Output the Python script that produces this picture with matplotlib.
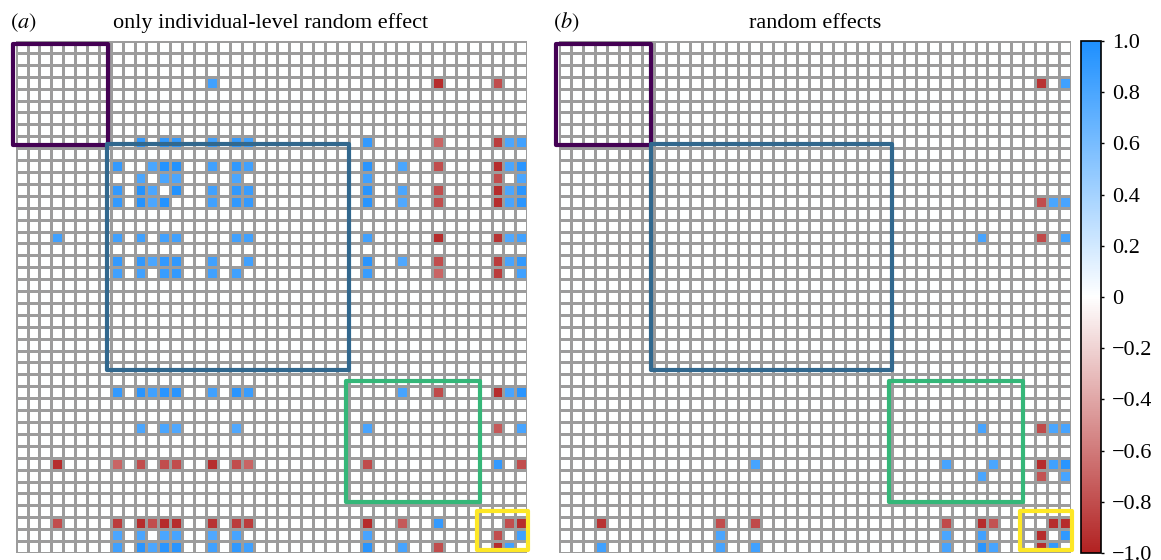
import numpy as np
import matplotlib
matplotlib.use("Agg")
import matplotlib.pyplot as plt
from matplotlib.colors import LinearSegmentedColormap
from matplotlib.patches import Rectangle

plt.rcParams['font.family'] = ['Liberation Serif', 'DejaVu Serif']
plt.rcParams['mathtext.fontset'] = 'stix'

n = 43

# panel (a): upper-triangle correlations (row, col, value)
a_rows = [3, 3, 3,
          8, 8, 8, 8, 8, 8, 8, 8, 8, 8, 8,
          10, 10, 10, 10, 10, 10, 10, 10, 10, 10, 10, 10,
          11, 11, 11, 11, 11, 11,
          12, 12, 12, 12, 12, 12, 12, 12, 12, 12,
          13, 13, 13, 13, 13, 13, 13, 13, 13,
          16, 16, 16, 16, 16, 16, 16,
          18, 18, 18, 18, 18, 18, 18,
          19, 19, 19, 19,
          29, 29, 29, 29, 29,
          32, 32,
          35, 35,
          40, 40,
          41]
a_cols = [16, 35, 40,
          10, 12, 13, 16, 18, 19, 29, 35, 40, 41, 42,
          11, 12, 13, 16, 18, 19, 29, 32, 35, 40, 41, 42,
          12, 13, 18, 29, 40, 42,
          13, 16, 18, 19, 29, 32, 35, 40, 41, 42,
          16, 18, 19, 29, 32, 35, 40, 41, 42,
          18, 19, 29, 35, 40, 41, 42,
          19, 29, 32, 35, 40, 41, 42,
          29, 35, 40, 42,
          32, 35, 40, 41, 42,
          40, 42,
          40, 42,
          41, 42,
          42]
a_vals = [0.85, -0.95, -0.8,
          0.9, 0.9, 0.9, 0.85, 0.9, 0.85, 0.9, -0.7, -0.88, 0.8, 0.85,
          0.8, 0.97, 0.97, 0.85, 0.92, 0.85, 0.95, 0.8, -0.8, -0.95, 0.8, 0.95,
          0.8, 0.8, 0.8, 0.85, -0.8, 0.8,
          0.97, 0.85, 0.92, 0.88, 0.95, 0.8, -0.8, -0.95, 0.8, 0.95,
          0.85, 0.92, 0.9, 0.95, 0.78, -0.8, -0.95, 0.82, 0.95,
          0.85, 0.85, 0.85, -0.95, -0.92, 0.78, 0.85,
          0.85, 0.95, 0.78, -0.8, -0.88, 0.82, 0.92,
          0.88, -0.7, -0.88, 0.85,
          0.82, -0.82, -0.95, 0.82, 0.95,
          -0.75, 0.82,
          0.9, -0.8,
          -0.8, -0.95,
          0.85]

# panel (b)
b_rows = [3, 3, 13, 13, 13, 16, 16, 16, 32, 32, 32, 32,
          35, 35, 35, 35, 36, 36, 40, 40, 41]
b_cols = [40, 42, 40, 41, 42, 35, 40, 42, 35, 40, 41, 42,
          36, 40, 41, 42, 40, 42, 41, 42, 42]
b_vals = [-0.92, 0.85, -0.8, 0.8, 0.82, 0.82, -0.82, 0.85, 0.82, -0.82, 0.8, 0.82,
          0.8, -0.95, 0.85, 0.95, -0.78, 0.82, -0.95, -0.95, 0.92]

# cluster boxes: (x0, y0, x1, y1) in cell units
box_edges = [(-0.22, 0.22, 7.76, 8.7),
             (7.72, 8.64, 27.99, 27.67),
             (27.76, 28.52, 39.03, 38.72),
             (38.74, 39.5, 43.1, 42.75)]
box_colors = ['#440154', '#31688E', '#35B779', '#FDE725']

titles = ['only individual-level random effect', 'random effects']
letters = ['$(a)$', '$(b)$']

cb_ticks = [-1.0, -0.8, -0.6, -0.4, -0.2, 0.0, 0.2, 0.4, 0.6, 0.8, 1.0]
cb_labels = ['\u22121.0', '\u22120.8', '\u22120.6', '\u22120.4', '\u22120.2', '0',
             '0.2', '0.4', '0.6', '0.8', '1.0']


def build(rows, cols, vals):
    m = np.zeros((n, n))
    for r, c, v in zip(rows, cols, vals):
        m[r, c] = v
        m[c, r] = v
    return m


cmap = LinearSegmentedColormap.from_list('rwb', ['#b22222', '#ffffff', '#1e90ff'])

fig = plt.figure(figsize=(11.61, 5.6), dpi=100)

W, H = 1161.0, 560.0
panels = [build(a_rows, a_cols, a_vals), build(b_rows, b_cols, b_vals)]
lefts = [15.6, 559.0]
letter_x = [10, 553]
title_x = [271, 815]

for k, mat in enumerate(panels):
    ax = fig.add_axes([lefts[k] / W, 7 / H, 511.7 / W, 512 / H])
    mesh = ax.pcolormesh(np.arange(n + 1), np.arange(n + 1), mat, cmap=cmap,
                         vmin=-1, vmax=1, edgecolors='#9c9c9c', linewidth=1.0)
    ax.set_xlim(0, n)
    ax.set_ylim(n, 0)
    ax.axis('off')
    for (x0, y0, x1, y1), col in zip(box_edges, box_colors):
        ax.add_patch(Rectangle((x0, y0), x1 - x0, y1 - y0, fill=False,
                               edgecolor=col, linewidth=3.0,
                               joinstyle='round', clip_on=False, zorder=5))
    fig.text(letter_x[k] / W, 1 - 28 / H, letters[k], fontsize=16,
             ha='left', va='baseline')
    fig.text(title_x[k] / W, 1 - 28 / H, titles[k], fontsize=16,
             ha='center', va='baseline')

cax = fig.add_axes([1081 / W, 7 / H, 19.7 / W, 512 / H])
cb = fig.colorbar(mesh, cax=cax, ticks=cb_ticks)
cb.set_ticklabels(cb_labels)
cb.outline.set_linewidth(1.2)
cax.tick_params(length=2.5, width=1.0, pad=5.5, labelsize=16)

fig.savefig('out.png', dpi=100)
